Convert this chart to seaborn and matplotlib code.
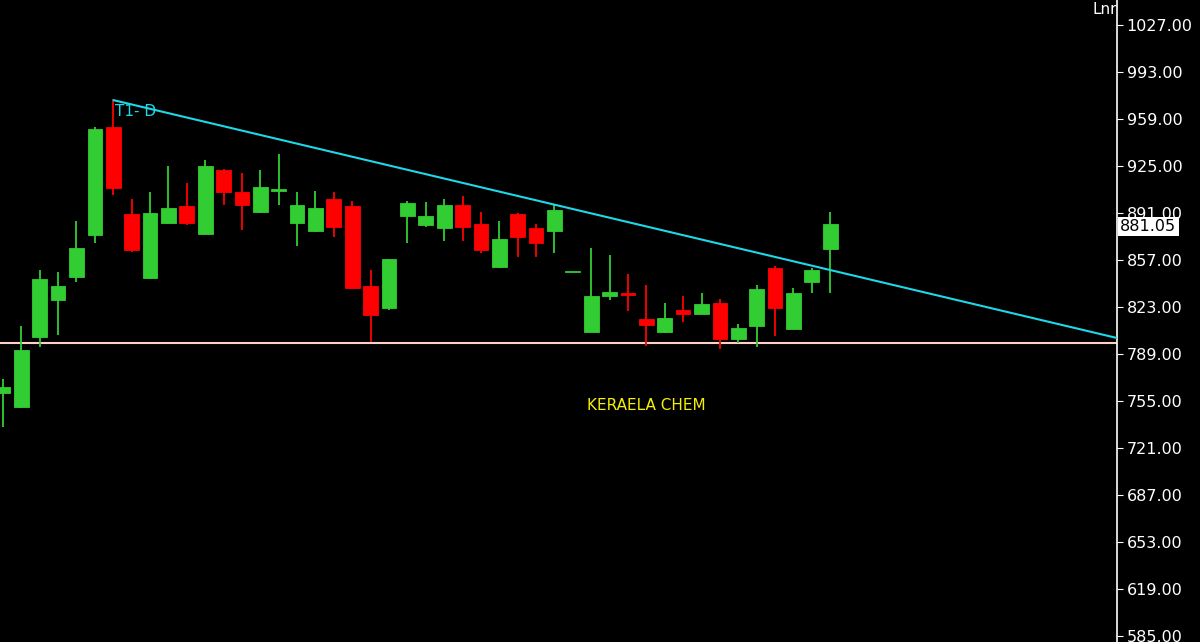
import numpy as np
import pandas as pd
import seaborn as sns
import matplotlib
matplotlib.use("Agg")
import matplotlib.pyplot as plt

sns.set_style("dark")
plt.rcParams['font.family'] = ['DejaVu Sans']

opens = [761, 751, 801, 828, 845, 875, 953, 890, 844, 884, 896, 876, 922, 906, 892, 907,
         884, 878, 901, 896, 838, 822, 889, 882, 880, 897, 883, 852, 890, 880, 878, 848,
         805, 831, 833, 814, 805, 821, 818, 826, 800, 809, 851, 807, 841, 865]
closes = [765, 792, 843, 838, 866, 952, 909, 864, 891, 895, 884, 925, 906, 897, 910, 908,
          897, 895, 881, 837, 817, 858, 898, 889, 897, 881, 864, 872, 874, 869, 893, 848,
          831, 834, 832, 810, 815, 818, 825, 800, 808, 836, 822, 833, 850, 883]
highs = [771, 809, 850, 848, 885, 953, 972, 901, 906, 925, 913, 929, 923, 920, 922, 934,
         906, 907, 906, 900, 850, 858, 900, 899, 901, 903, 892, 885, 891, 883, 897, 848,
         866, 861, 847, 839, 826, 831, 833, 829, 811, 839, 853, 837, 851, 892]
lows = [736, 750, 794, 803, 841, 869, 904, 863, 843, 883, 882, 875, 897, 879, 891, 897,
        867, 877, 874, 836, 798, 821, 869, 881, 871, 871, 862, 851, 859, 859, 862, 848,
        805, 828, 820, 795, 804, 812, 818, 793, 797, 794, 802, 807, 833, 833]
yticks = [1027, 993, 959, 925, 891, 857, 823, 789, 755, 721, 687, 653, 619, 585]
last_price = 881.05
support = 797
trend_x = [6, 60.6]
trend_y = [972.7, 800.6]

df = pd.DataFrame({"o": opens, "c": closes, "h": highs, "l": lows})
df["i"] = np.arange(len(df))
df["up"] = df["c"] >= df["o"]

fig = plt.figure(figsize=(12, 6.42), dpi=100, facecolor="black")
ax = fig.add_axes([0, 0, 1117 / 1200, 1])
ax.set_facecolor("black")

green, red = "#32cd32", "#ff0000"
cols = np.where(df["up"], green, red)
ax.vlines(df["i"], df["l"], df["h"], colors=cols, linewidth=1.3, zorder=2)
bottoms = np.minimum(df["o"], df["c"])
heights = np.maximum(np.abs(df["c"] - df["o"]), 1.2)
ax.bar(df["i"], heights, bottom=bottoms, width=0.8, color=cols,
       edgecolor=cols, linewidth=0.6, zorder=3)

ax.axhline(support, color="#ffd0c8", linewidth=1.5, zorder=1)
ax.plot(trend_x, trend_y, color="#1ed8e8", linewidth=1.5, zorder=4)
ax.text(6.1, 961, "T1- D", color="#1ed8e8", fontsize=11)
ax.text(35, 752, "KERAELA CHEM", color="#f5f000", fontsize=11, ha="center", va="center")

ax.set_xlim(-0.16, 60.6)
ax.set_ylim(580.7, 1045.1)
ax.set_xticks([])
ax.yaxis.tick_right()
ax.set_yticks(yticks)
ax.set_yticklabels([f"{v:.2f}" for v in yticks], color="white", fontsize=11.5)
ax.tick_params(axis="y", colors="white", length=4, pad=3)
ax.grid(False)
for s in ["top", "left", "bottom"]:
    ax.spines[s].set_visible(False)
ax.spines["right"].set_color("white")
ax.spines["right"].set_linewidth(1.2)

ax.text(1.003, last_price, f"{last_price:.2f}", transform=ax.get_yaxis_transform(),
        color="black", fontsize=11.5, va="center", ha="left", zorder=10,
        bbox=dict(facecolor="white", edgecolor="none", pad=1.5))
fig.text(1105 / 1200, 1 - 9 / 642, "Lnr", color="white", fontsize=11, va="center", ha="center")

fig.savefig("out.png", dpi=100, facecolor="black")
